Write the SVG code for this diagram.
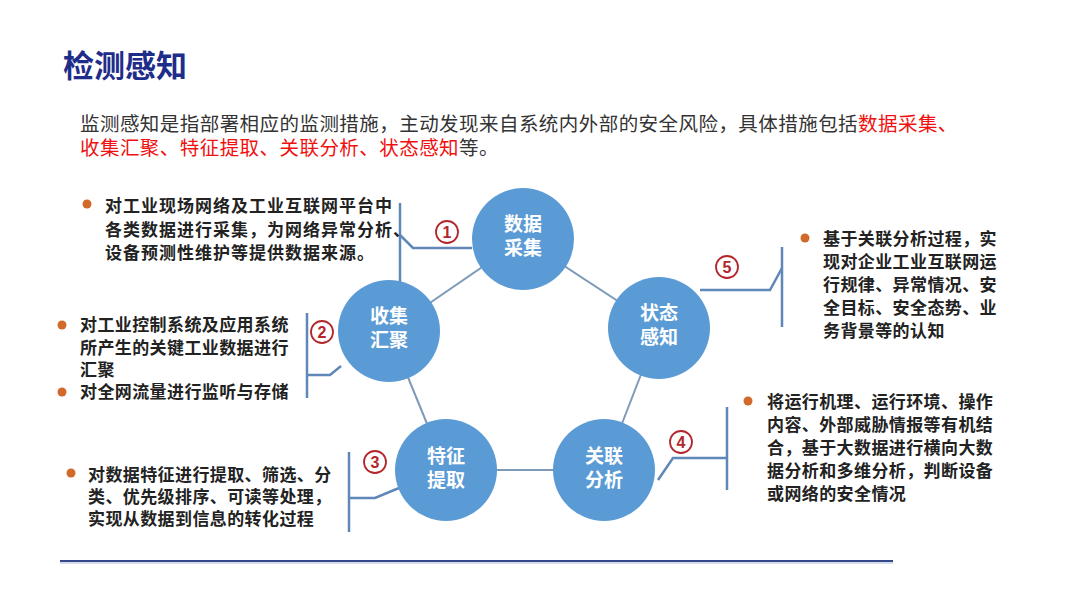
<svg xmlns="http://www.w3.org/2000/svg" width="1080" height="608" viewBox="0 0 1080 608">
<style>
.title{font-family:"Noto Sans CJK SC","Liberation Sans",sans-serif;font-weight:bold;font-size:31px;fill:#1f2d8a}
.para{font-family:"Noto Sans CJK SC","Liberation Sans",sans-serif;font-size:19.5px;fill:#333;letter-spacing:0.45px}
.red{fill:#f01010}
.bt{font-family:"Noto Sans CJK SC","Liberation Sans",sans-serif;font-weight:bold;font-size:17px;fill:#222;letter-spacing:0.4px}
.wide{letter-spacing:1px}
.node circle{fill:#5b9bd5}
.node text{font-family:"Noto Sans CJK SC","Liberation Sans",sans-serif;font-weight:bold;font-size:19px;fill:#fff;text-anchor:middle}
.edge{stroke:#7d9aba;stroke-width:2;fill:none}
.brk{stroke:#5f87b8;stroke-width:2.5;fill:none}
.num circle{fill:#fff;stroke:#b3262b;stroke-width:1.8}
.num text{font-family:"Liberation Sans",sans-serif;font-weight:bold;font-size:16px;fill:#b3262b;text-anchor:middle}
.dot{fill:#d0692a}
</style>
<rect width="1080" height="608" fill="#fff"/>
<text class="title" x="63" y="77">检测感知</text>
<text class="para" x="80" y="131">监测感知是指部署相应的监测措施，主动发现来自系统内外部的安全风险，具体措施包括<tspan class="red">数据采集、</tspan></text>
<text class="para" x="80" y="155"><tspan class="red">收集汇聚、特征提取、关联分析、状态感知</tspan>等。</text>

<g id="connectors">
<line class="edge" x1="523" y1="239" x2="389" y2="331"/>
<line class="edge" x1="523" y1="239" x2="659" y2="328"/>
<line class="edge" x1="389" y1="331" x2="446" y2="470"/>
<line class="edge" x1="659" y1="328" x2="604" y2="470"/>
<line class="edge" x1="446" y1="470" x2="604" y2="470"/>
<polyline class="brk" points="400,203 400,282"/>
<polyline class="brk" points="400,235 413,248 472,248"/>
<polyline class="brk" points="307,313 307,398"/>
<polyline class="brk" points="307,375 330,375 341,366"/>
<polyline class="brk" points="349,452 349,532"/>
<polyline class="brk" points="349,498 375,498 399,488"/>
<polyline class="brk" points="727,407 727,490"/>
<polyline class="brk" points="658,480 673,458 727,458"/>
<polyline class="brk" points="782,247 782,327"/>
<polyline class="brk" points="700,290 770,290 782,268"/>
</g>

<g id="n1" class="node"><circle cx="523" cy="239" r="51"/><text x="523" y="231">数据</text><text x="523" y="255">采集</text></g>
<g id="n2" class="node"><circle cx="389" cy="331" r="51"/><text x="389" y="323">收集</text><text x="389" y="347">汇聚</text></g>
<g id="n3" class="node"><circle cx="446" cy="470" r="51"/><text x="446" y="463">特征</text><text x="446" y="487">提取</text></g>
<g id="n4" class="node"><circle cx="604" cy="470" r="51"/><text x="604" y="463">关联</text><text x="604" y="487">分析</text></g>
<g id="n5" class="node"><circle cx="659" cy="328" r="51"/><text x="659" y="320">状态</text><text x="659" y="344">感知</text></g>

<g id="num1" class="num"><circle cx="447" cy="232" r="11"/><text x="447" y="238">1</text></g>
<g id="num2" class="num"><circle cx="322" cy="332" r="11"/><text x="322" y="338">2</text></g>
<g id="num3" class="num"><circle cx="375" cy="462" r="11"/><text x="375" y="468">3</text></g>
<g id="num4" class="num"><circle cx="681" cy="442" r="11"/><text x="681" y="448">4</text></g>
<g id="num5" class="num"><circle cx="727" cy="267" r="11"/><text x="727" y="273">5</text></g>

<g id="desc1">
<circle class="dot" cx="87" cy="204" r="4.5"/>
<text class="bt wide" x="105" y="212">对工业现场网络及工业互联网平台中</text>
<text class="bt wide" x="105" y="236">各类数据进行采集，为网络异常分析、</text>
<text class="bt wide" x="105" y="259">设备预测性维护等提供数据来源。</text>
</g>
<g id="desc2">
<circle class="dot" cx="62" cy="325" r="4.5"/>
<text class="bt" x="80" y="331">对工业控制系统及应用系统</text>
<text class="bt" x="80" y="354">所产生的关键工业数据进行</text>
<text class="bt" x="80" y="376">汇聚</text>
<circle class="dot" cx="62" cy="392" r="4.5"/>
<text class="bt" x="80" y="398">对全网流量进行监听与存储</text>
</g>
<g id="desc3">
<circle class="dot" cx="71" cy="473" r="4.5"/>
<text class="bt" x="88" y="481">对数据特征进行提取、筛选、分</text>
<text class="bt" x="88" y="503">类、优先级排序、可读等处理，</text>
<text class="bt" x="88" y="525">实现从数据到信息的转化过程</text>
</g>
<g id="desc4">
<circle class="dot" cx="748" cy="401" r="4.5"/>
<text class="bt" x="767" y="408">将运行机理、运行环境、操作</text>
<text class="bt" x="767" y="431">内容、外部威胁情报等有机结</text>
<text class="bt" x="767" y="454">合，基于大数据进行横向大数</text>
<text class="bt" x="767" y="477">据分析和多维分析，判断设备</text>
<text class="bt" x="767" y="500">或网络的安全情况</text>
</g>
<g id="desc5">
<circle class="dot" cx="805" cy="238" r="4.5"/>
<text class="bt" x="823" y="245">基于关联分析过程，实</text>
<text class="bt" x="823" y="268">现对企业工业互联网运</text>
<text class="bt" x="823" y="291">行规律、异常情况、安</text>
<text class="bt" x="823" y="314">全目标、安全态势、业</text>
<text class="bt" x="823" y="337">务背景等的认知</text>
</g>
<line x1="60" y1="561" x2="893" y2="561" stroke="#34478a" stroke-width="2"/>
<line x1="60" y1="563" x2="893" y2="563" stroke="#a9b8d8" stroke-width="1"/>
</svg>
